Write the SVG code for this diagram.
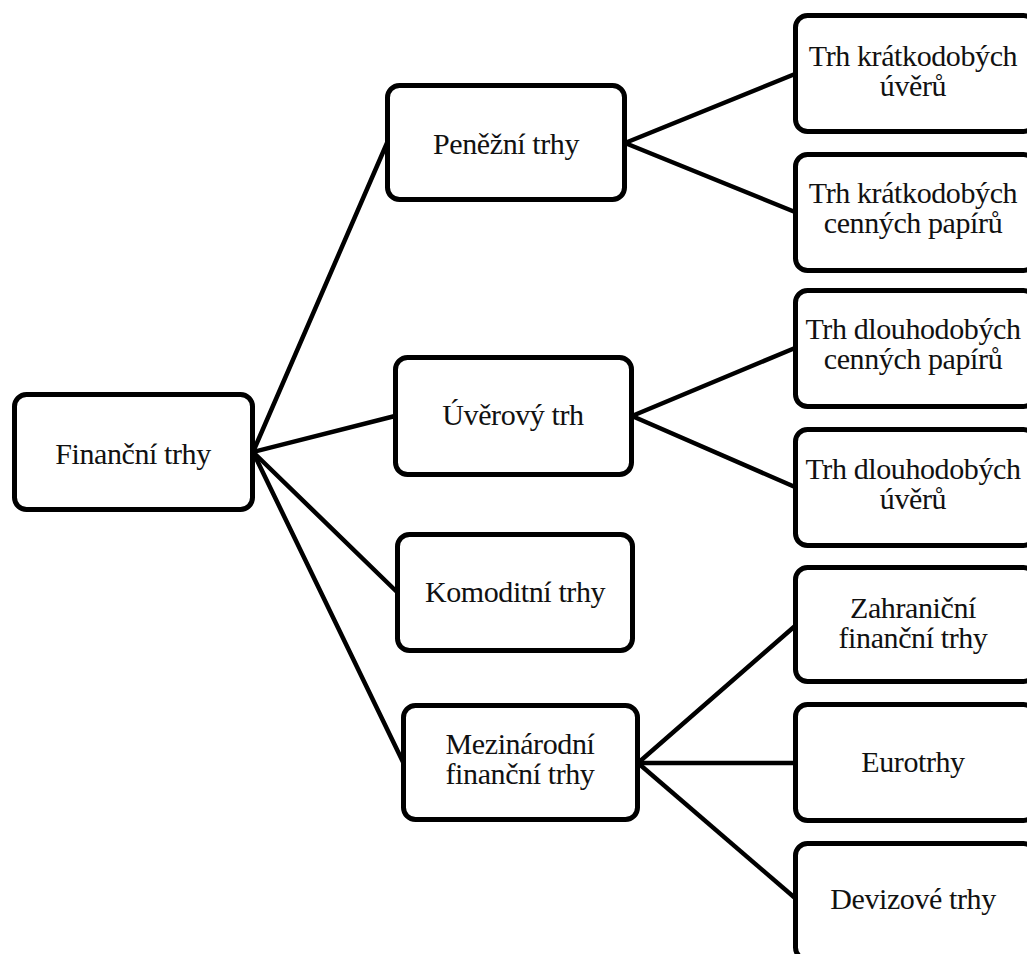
<svg xmlns="http://www.w3.org/2000/svg" width="1027" height="954" viewBox="0 0 1027 954">
<style>
.box{fill:#fff;stroke:#000;stroke-width:5}
.lbl{font-family:"Liberation Serif","Times New Roman",serif;font-size:30px;letter-spacing:-0.4px;fill:#111;text-anchor:middle}
.con line{stroke:#000;stroke-width:4.5;stroke-linecap:round}
</style>
<rect width="1027" height="954" fill="#fff"/>
<g id="connectors" class="con">
<line x1="253" y1="452" x2="387" y2="143"/>
<line x1="253" y1="452" x2="395" y2="416"/>
<line x1="253" y1="452" x2="397" y2="592"/>
<line x1="253" y1="452" x2="403" y2="762"/>
<line x1="625" y1="143" x2="795" y2="74"/>
<line x1="625" y1="143" x2="795" y2="212"/>
<line x1="632" y1="416" x2="795" y2="348"/>
<line x1="632" y1="416" x2="795" y2="487"/>
<line x1="638" y1="763" x2="795" y2="626"/>
<line x1="638" y1="763" x2="795" y2="763"/>
<line x1="638" y1="763" x2="795" y2="898"/>
</g>
<g id="n-financni">
<rect class="box" x="14.5" y="394.5" width="238" height="115" rx="12"/>
<text class="lbl" x="133" y="464">Finanční trhy</text>
</g>
<g id="n-penezni">
<rect class="box" x="387.5" y="85.5" width="237" height="114" rx="12"/>
<text class="lbl" x="506" y="154">Peněžní trhy</text>
</g>
<g id="n-uverovy">
<rect class="box" x="395.5" y="357.5" width="236" height="117" rx="12"/>
<text class="lbl" x="513" y="425">Úvěrový trh</text>
</g>
<g id="n-komoditni">
<rect class="box" x="397.5" y="534.5" width="235" height="116" rx="12"/>
<text class="lbl" x="515" y="602">Komoditní trhy</text>
</g>
<g id="n-mezinarodni">
<rect class="box" x="403.5" y="705.5" width="234" height="114" rx="12"/>
<text class="lbl" x="520" y="754">Mezinárodní</text>
<text class="lbl" x="520" y="784">finanční trhy</text>
</g>
<g id="n-kratk-uvery">
<rect class="box" x="795.5" y="15.5" width="240" height="116" rx="12"/>
<text class="lbl" x="913" y="66">Trh krátkodobých</text>
<text class="lbl" x="913" y="96">úvěrů</text>
</g>
<g id="n-kratk-cp">
<rect class="box" x="795.5" y="154.5" width="240" height="116" rx="12"/>
<text class="lbl" x="913" y="203">Trh krátkodobých</text>
<text class="lbl" x="913" y="233">cenných papírů</text>
</g>
<g id="n-dlouh-cp">
<rect class="box" x="795.5" y="290.5" width="240" height="116" rx="12"/>
<text class="lbl" x="913" y="339">Trh dlouhodobých</text>
<text class="lbl" x="913" y="369">cenných papírů</text>
</g>
<g id="n-dlouh-uvery">
<rect class="box" x="795.5" y="429.5" width="240" height="116" rx="12"/>
<text class="lbl" x="913" y="479">Trh dlouhodobých</text>
<text class="lbl" x="913" y="509">úvěrů</text>
</g>
<g id="n-zahranicni">
<rect class="box" x="795.5" y="567.5" width="240" height="114" rx="12"/>
<text class="lbl" x="913" y="618">Zahraniční</text>
<text class="lbl" x="913" y="648">finanční trhy</text>
</g>
<g id="n-eurotrhy">
<rect class="box" x="795.5" y="704.5" width="240" height="116" rx="12"/>
<text class="lbl" x="913" y="772">Eurotrhy</text>
</g>
<g id="n-devizove">
<rect class="box" x="795.5" y="843.5" width="240" height="116" rx="12"/>
<text class="lbl" x="913" y="909">Devizové trhy</text>
</g>
</svg>
